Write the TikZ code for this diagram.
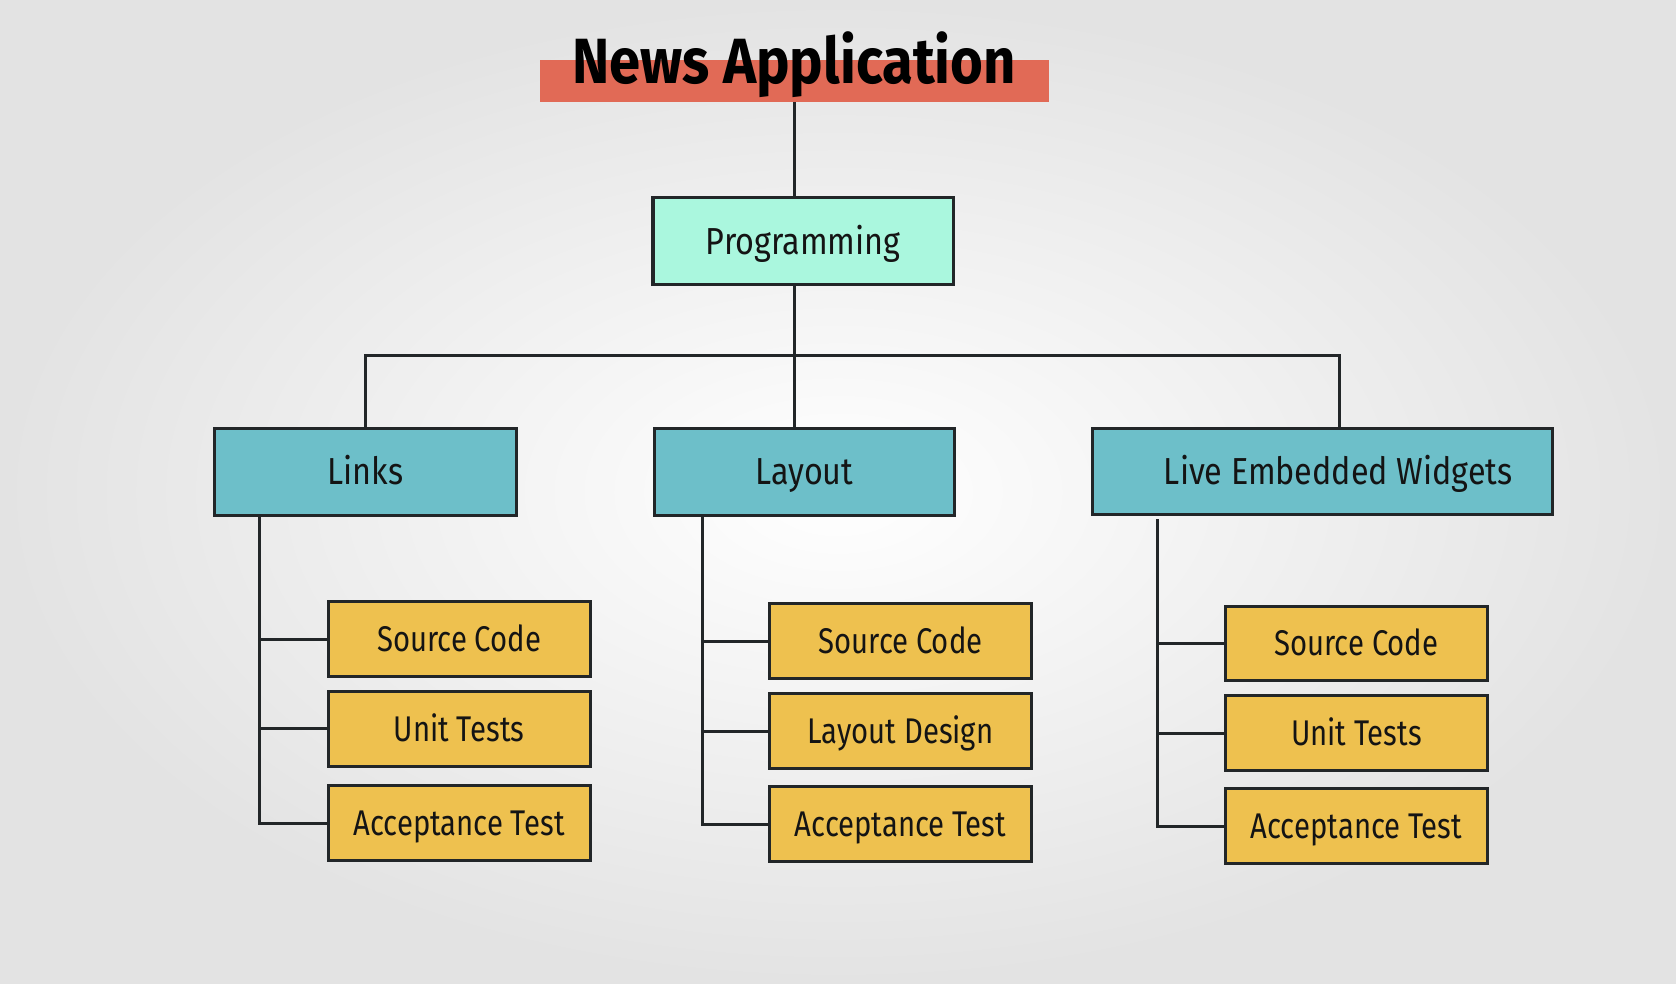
\documentclass[tikz,border=0pt]{standalone}
\usepackage{fontspec}
\setmainfont{Fira Sans}[FakeStretch=0.86]
\newfontfamily\titlefont{Fira Sans}[FakeStretch=0.88]
\newfontfamily\leaffont{Fira Sans}[FakeStretch=0.82]
\usetikzlibrary{positioning,calc}

\definecolor{barred}{RGB}{225,106,86}
\definecolor{mint}{RGB}{170,247,222}
\definecolor{teal}{RGB}{109,191,201}
\definecolor{gold}{RGB}{238,193,79}
\definecolor{boxline}{RGB}{34,38,40}

\tikzset{
	box/.style={draw=boxline, line width=0.8pt, inner sep=0pt, text=black!92, text height=6.9pt, text depth=0pt, font=\fontsize{10}{12}\selectfont},
	topbox/.style={box, fill=mint, minimum width=2.81cm, minimum height=0.81cm},
	midbox/.style={box, fill=teal, minimum height=0.81cm},
	leafbox/.style={box, fill=gold, minimum width=2.45cm, minimum height=0.70cm, text height=6.5pt, font=\leaffont\fontsize{9.5}{11}\selectfont},
	wire/.style={draw=boxline, line width=0.8pt}
}

\begin{document}
\begin{tikzpicture}[x=0.01cm, y=-0.01cm]
			%%%%% BACKGROUND %%%%%
			\shade[inner color=white, outer color=black!11] (0,0) rectangle (1568,920.5);
			\useasboundingbox (0,0) rectangle (1568,920.5);
			
			%%%%% TOP %%%%%
			\node[fill=barred, minimum width=4.76cm, minimum height=0.39cm, inner sep=0pt] (app) at (743,75.5) {};
			\node[anchor=base, inner sep=0pt, font=\titlefont\bfseries\fontsize{17}{20}\selectfont] (title) at (743,78) {News Application};
			
			\node[topbox] (prog) at (751.5,225.5) {Programming};
			
			%%%%% SECOND LEVEL %%%%%
			\node[midbox, minimum width=2.82cm] (links) at (342,441.5) {Links};
			\node[midbox, minimum width=2.81cm] (layout) at (752.5,441.5) {Layout};
			\node[midbox, minimum width=4.30cm] (widgets) at (1237,441) {\hspace*{0.3cm}Live Embedded Widgets};
			
			%%%%% LEAVES %%%%%
			\node[leafbox] (linksrc) at (429.5,598) {Source Code};
			\node[leafbox] (linkunit) at (429.5,682) {Unit Tests};
			\node[leafbox] (linkaccept) at (429.5,770) {Acceptance Test};
			
			\node[leafbox] (layoutsrc) at (842.5,600) {Source Code};
			\node[leafbox] (layoutdesign) at (842.5,684) {Layout Design};
			\node[leafbox] (layoutaccept) at (842.5,771) {Acceptance Test};
			
			\node[leafbox] (widgetsrc) at (1269,602) {Source Code};
			\node[leafbox] (widgetunit) at (1269,686) {Unit Tests};
			\node[leafbox] (widgetaccept) at (1269,773) {Acceptance Test};
			
			%%%%% CONNECTORS %%%%%
			\coordinate (spine) at (743,333);
			\coordinate (busend) at (1253,333);
			\draw[wire] (app.south) -- (app.south |- prog.north);
			\draw[wire] (app.south |- prog.south) -- (app.south |- layout.north);
			\draw[wire] (links.north) |- (spine) -- (busend) -- (busend |- widgets.north);
			
			\coordinate (linkstrunk) at (243,482);
			\draw[wire] (linkstrunk) |- (linkaccept.west);
			\draw[wire] (linkstrunk |- linksrc.west) -- (linksrc.west);
			\draw[wire] (linkstrunk |- linkunit.west) -- (linkunit.west);
			
			\coordinate (layouttrunk) at (657,482);
			\draw[wire] (layouttrunk) |- (layoutaccept.west);
			\draw[wire] (layouttrunk |- layoutsrc.west) -- (layoutsrc.west);
			\draw[wire] (layouttrunk |- layoutdesign.west) -- (layoutdesign.west);
			
			\coordinate (widgettrunk) at (1083,486);
			\draw[wire] (widgettrunk) |- (widgetaccept.west);
			\draw[wire] (widgettrunk |- widgetsrc.west) -- (widgetsrc.west);
			\draw[wire] (widgettrunk |- widgetunit.west) -- (widgetunit.west);
			
			%%%%% END %%%%%
\end{tikzpicture}
\end{document}
